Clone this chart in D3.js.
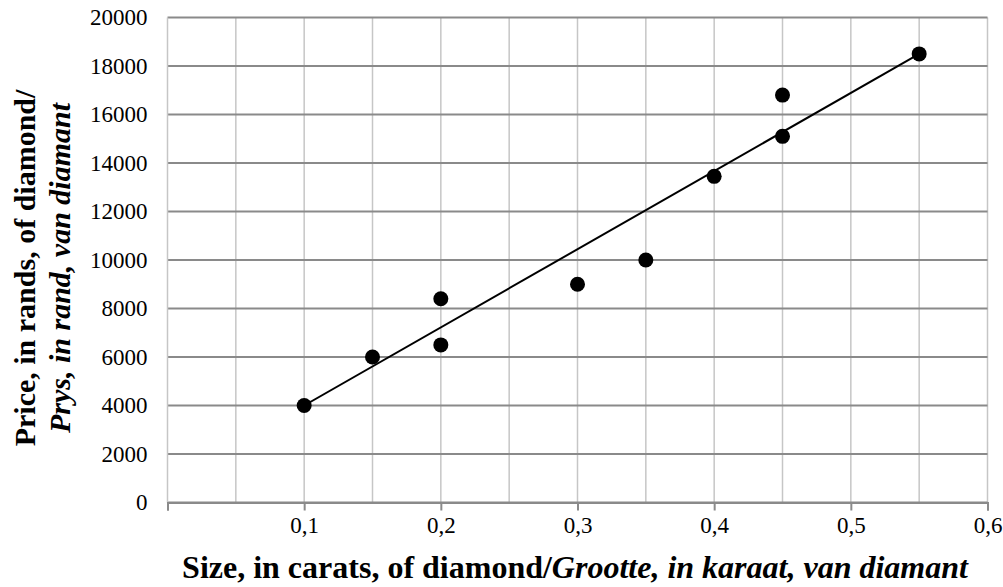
<!DOCTYPE html>
<html>
<head>
<meta charset="utf-8">
<script src="https://cdn.jsdelivr.net/npm/d3@7"></script>
<style>
  body { margin: 0; background: #fff; }
  text { font-family: "Liberation Serif", "Times New Roman", Times, serif; }
</style>
</head>
<body>
<svg id="chart" width="1003" height="587"></svg>
<script>
// diamond size (carats) vs price (rands)
const sizes  = [0.1, 0.15, 0.2, 0.2, 0.3, 0.35, 0.4, 0.45, 0.45, 0.55]
const prices = [4000, 6000, 6500, 8400, 9000, 10000, 13450, 15100, 16800, 18500]
// trend line end points as drawn
const trendX = [0.1, 0.55]
const trendY = [4000, 18500]
const xTicks = [0, 0.1, 0.2, 0.3, 0.4, 0.5, 0.6]
const xGrid  = [0.05, 0.1, 0.15, 0.2, 0.25, 0.3, 0.35, 0.4, 0.45, 0.5, 0.55, 0.6]
const yTicks = [0, 2000, 4000, 6000, 8000, 10000, 12000, 14000, 16000, 18000, 20000]

const FONT = '"Liberation Serif", "Times New Roman", Times, serif'
const svg = d3.select('#chart')
const m = {left: 167.5, top: 17.5, right: 987.5, bottom: 502.5}

const x = d3.scaleLinear().domain([0, 0.6]).range([m.left, m.right])
const y = d3.scaleLinear().domain([0, 20000]).range([m.bottom, m.top])

/**
 * grid lines
 */
svg.append('g')
    .selectAll('line')
    .data(xGrid)
    .enter()
    .append('line')
        .attr('x1', d => x(d)).attr('x2', d => x(d))
        .attr('y1', m.top).attr('y2', m.bottom)
        .attr('stroke', '#c6c6c6')
        .attr('stroke-width', 1.5)

svg.append('g')
    .selectAll('line')
    .data(yTicks)
    .enter()
    .append('line')
        .attr('x1', m.left).attr('x2', m.right)
        .attr('y1', d => y(d)).attr('y2', d => y(d))
        .attr('stroke', '#8a8a8a')
        .attr('stroke-width', 2)

// left edge of plot
svg.append('line')
    .attr('x1', m.left).attr('x2', m.left)
    .attr('y1', m.top).attr('y2', m.bottom)
    .attr('stroke', '#c6c6c6')
    .attr('stroke-width', 1.5)

/**
 * axes
 */
const fmt = d => String(d).replace('.', ',')

svg.append('g')
    .attr('transform', `translate(0,${m.bottom})`)
    .call(d3.axisBottom(x).tickValues(xTicks).tickSize(8).tickFormat(d => d === 0 ? '' : fmt(d)))
    .attr('font-family', FONT)
    .call(g => g.select('.domain').attr('stroke', '#8a8a8a').attr('stroke-width', 2))
    .call(g => g.selectAll('.tick line').attr('stroke', '#8a8a8a').attr('stroke-width', 2))
    .call(g => g.selectAll('.tick text')
        .attr('y', 14)
        .style('font-size', '23px')
        .attr('fill', '#000'))

svg.append('g')
    .attr('transform', `translate(${m.left},0)`)
    .call(d3.axisLeft(y).tickValues(yTicks).tickSize(0).tickPadding(20).tickFormat(d3.format('d')))
    .attr('font-family', FONT)
    .call(g => g.select('.domain').remove())
    .call(g => g.selectAll('.tick text')
        .style('font-size', '23px')
        .attr('fill', '#000'))

/**
 * trend line + points
 */
svg.append('path')
    .datum(trendX.map((d, i) => ({x: d, y: trendY[i]})))
    .attr('d', d3.line().x(d => x(d.x)).y(d => y(d.y)))
    .attr('stroke', '#000')
    .attr('stroke-width', 2)
    .attr('fill', 'none')

svg.append('g')
    .selectAll('circle')
    .data(sizes.map((d, i) => ({x: d, y: prices[i]})))
    .enter()
    .append('circle')
        .attr('cx', d => x(d.x))
        .attr('cy', d => y(d.y))
        .attr('r', 7.5)
        .style('fill', '#000')

/**
 * axis titles
 */
const xt = svg.append('text')
    .attr('x', 575)
    .attr('y', 578)
    .attr('text-anchor', 'middle')
    .style('font-size', '32px')
    .style('font-weight', 'bold')
xt.append('tspan').text('Size, in carats, of diamond/')
xt.append('tspan').style('font-style', 'italic').text('Grootte, in karaat, van diamant')

const yt = svg.append('text')
    .attr('transform', 'translate(0,268) rotate(-90)')
    .attr('text-anchor', 'middle')
    .style('font-size', '30px')
    .style('font-weight', 'bold')
yt.append('tspan').attr('x', 0).attr('y', 35).text('Price, in rands, of diamond/')
yt.append('tspan').attr('x', 0).attr('y', 70).style('font-style', 'italic').text('Prys, in rand, van diamant')
</script>
</body>
</html>
